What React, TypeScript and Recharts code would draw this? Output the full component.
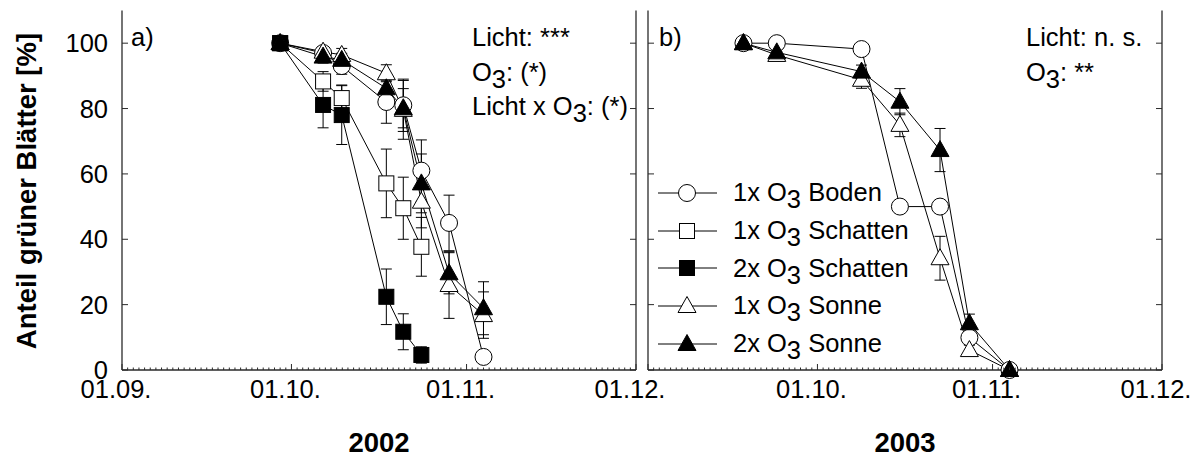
import React from 'react';
import { LineChart, Line, XAxis, YAxis, ErrorBar, Legend } from 'recharts';

const FONT = '"Liberation Sans", Arial, Helvetica, sans-serif';
const INK = '#000000';
const FRAME = '#2a2a2a';
const TEXT_SIZE = 25.5;
const TITLE_SIZE = 27.5;

// x: days after 1 September, y: share of green leaves in %
const X_DOMAIN: [number, number] = [0, 91];
const Y_DOMAIN: [number, number] = [0, 110];
const MONTH_DAYS = [0, 30, 61, 91];
const MONTH_LABELS = ['01.09.', '01.10.', '01.11.', '01.12.'];
const INNER_MONTH_DAYS = [30, 61];
const DAY_TICKS = Array.from({ length: 92 }, (_, i) => i);
const Y_TICKS = [0, 20, 40, 60, 80, 100];

// ---- 2002 ----
const days2002 = [28, 35.6, 38.9, 46.8, 49.8, 53, 57.9, 64];
const boden2002 = [100, 97, 93, 82, 81, 61, 45, 4];
const bodenErr2002 = [0, 1.5, 2.5, 6.5, 8, 9.4, 8.5, 0];
const schatten1x2002 = [100, 88.3, 83.2, 57.1, 49.5, 37.7];
const schatten1xErr2002 = [0, 3, 4, 10.5, 9.5, 9];
const schatten2x2002 = [100, 81.1, 78, 22.4, 11.7, 4.6];
const schatten2xErr2002 = [0, 7, 9, 8.5, 5.5, 2.5];
const sonne1x2002 = [100, 97.4, 96.4, 90.8, 79.6, 51.5, 26, 16.8];
const sonne1xErr2002 = [0, 1.5, 2, 2.6, 9, 8, 10.2, 7.1];
const sonne2x2002 = [100, 95.9, 94.9, 86.2, 80.1, 57.1, 29.6, 18.9];
const sonne2xErr2002 = [0, 2, 2, 4, 6, 9, 6.3, 8.1];

// ---- 2003 ----
const days2003 = [16.9, 22.8, 37.8, 44.6, 51.7, 56.9, 64];
const boden2003 = [100, 100, 98.2, 50, 50, 9.9, 0];
const bodenErr2003 = [0, 0, 0, 0, 0, 2, 0];
const sonne1x2003 = [100, 96.4, 88.8, 75, 34.2, 6.1, 0];
const sonne1xErr2003 = [0, 1, 2.6, 3.6, 6.7, 1.5, 0];
const sonne2x2003 = [100, 97.2, 91.3, 82.1, 67.3, 14.3, 0];
const sonne2xErr2003 = [0, 1, 2, 4, 6.6, 2.8, 0];

// ---- legend ----
type Shape = 'circle' | 'square' | 'triangle';
const LEGEND_SHAPES: Shape[] = ['circle', 'square', 'square', 'triangle', 'triangle'];
const LEGEND_FILLED = [false, false, true, false, true];
const LEGEND_DOSE = ['1x', '1x', '2x', '1x', '2x'];
const LEGEND_SITE = ['Boden', 'Schatten', 'Schatten', 'Sonne', 'Sonne'];

interface SeriesDef {
  id: string;
  shape: Shape;
  filled: boolean;
  days: number[];
  values: number[];
  errors: number[];
}

const series2002: SeriesDef[] = [
  { id: 'b02', shape: 'circle', filled: false, days: days2002, values: boden2002, errors: bodenErr2002 },
  { id: 's1x02', shape: 'square', filled: false, days: days2002, values: schatten1x2002, errors: schatten1xErr2002 },
  { id: 's2x02', shape: 'square', filled: true, days: days2002, values: schatten2x2002, errors: schatten2xErr2002 },
  { id: 'so1x02', shape: 'triangle', filled: false, days: days2002, values: sonne1x2002, errors: sonne1xErr2002 },
  { id: 'so2x02', shape: 'triangle', filled: true, days: days2002, values: sonne2x2002, errors: sonne2xErr2002 },
];

const series2003: SeriesDef[] = [
  { id: 'b03', shape: 'circle', filled: false, days: days2003, values: boden2003, errors: bodenErr2003 },
  { id: 'so1x03', shape: 'triangle', filled: false, days: days2003, values: sonne1x2003, errors: sonne1xErr2003 },
  { id: 'so2x03', shape: 'triangle', filled: true, days: days2003, values: sonne2x2003, errors: sonne2xErr2003 },
];

const toPoints = (s: SeriesDef) =>
  s.values.map((y, i) => ({ x: s.days[i], y, e: s.errors[i] }));

function Marker({ shape, filled, cx, cy }: { shape: Shape; filled: boolean; cx: number; cy: number }) {
  const fill = filled ? INK : '#ffffff';
  if (shape === 'circle') {
    return <circle cx={cx} cy={cy} r={8.5} fill={fill} stroke={INK} strokeWidth={1} />;
  }
  if (shape === 'square') {
    return <rect x={cx - 7.5} y={cy - 7.5} width={15} height={15} fill={fill} stroke={INK} strokeWidth={1} />;
  }
  return (
    <polygon
      points={`${cx},${cy - 9.5} ${cx - 9},${cy + 6.5} ${cx + 9},${cy + 6.5}`}
      fill={fill}
      stroke={INK}
      strokeWidth={1}
    />
  );
}

const makeDot = (s: SeriesDef) => (props: any) => {
  const { cx, cy, index } = props;
  if (cx == null || cy == null) return <g key={`${s.id}-${index}`} />;
  return (
    <g key={`${s.id}-${index}`}>
      <Marker shape={s.shape} filled={s.filled} cx={cx} cy={cy} />
    </g>
  );
};

// ---- axis tick renderers (ticks point into the frame) ----
const bottomTick = (labelled: boolean[]) => (props: any) => {
  const { x, y, payload } = props;
  const idx = MONTH_DAYS.indexOf(payload.value);
  const major = idx >= 0;
  return (
    <g>
      <line x1={x} x2={x} y1={y} y2={y - (major ? 6 : 2.5)} stroke={FRAME} strokeWidth={1} />
      {major && labelled[idx] ? (
        <text x={x - 6} y={y + 28} textAnchor="middle" fontSize={TEXT_SIZE} fontFamily={FONT} fill={INK}>
          {MONTH_LABELS[idx]}
        </text>
      ) : null}
    </g>
  );
};

const topTick = (props: any) => {
  const { x, y } = props;
  return <line x1={x} x2={x} y1={y} y2={y + 6} stroke={FRAME} strokeWidth={1} />;
};

const leftTick = (showLabel: boolean) => (props: any) => {
  const { x, y, payload } = props;
  return (
    <g>
      <line x1={x} x2={x + 6} y1={y} y2={y} stroke={FRAME} strokeWidth={1} />
      {showLabel ? (
        <text x={x - 14} y={y} dy="0.36em" textAnchor="end" fontSize={TEXT_SIZE} fontFamily={FONT} fill={INK}>
          {payload.value}
        </text>
      ) : null}
    </g>
  );
};

const rightTick = (props: any) => {
  const { x, y } = props;
  return <line x1={x} x2={x - 6} y1={y} y2={y} stroke={FRAME} strokeWidth={1} />;
};

const frameLine = { stroke: FRAME, strokeWidth: 1.3 };

function LegendBox() {
  return (
    <div style={{ fontFamily: FONT, fontSize: TEXT_SIZE, color: INK }}>
      {LEGEND_SHAPES.map((shape, i) => (
        <div
          key={i}
          style={{ height: 37.75, display: 'flex', alignItems: 'center', whiteSpace: 'nowrap' }}
        >
          <svg width={60} height={20} style={{ overflow: 'visible', display: 'block' }}>
            <line x1={0} x2={59} y1={10} y2={10} stroke={INK} strokeWidth={1} />
            <Marker shape={shape} filled={LEGEND_FILLED[i]} cx={29} cy={10} />
          </svg>
          <span style={{ marginLeft: 15, lineHeight: 1 }}>
            {LEGEND_DOSE[i]} O
            <span style={{ position: 'relative', top: 7 }}>3</span> {LEGEND_SITE[i]}
          </span>
        </div>
      ))}
    </div>
  );
}

interface PanelProps {
  series: SeriesDef[];
  width: number;
  margin: { top: number; right: number; bottom: number; left: number };
  yAxisWidth: number;
  yLabels: boolean;
  xLabelled: boolean[];
  withLegend?: boolean;
}

function Panel({ series, width, margin, yAxisWidth, yLabels, xLabelled, withLegend }: PanelProps) {
  return (
    <LineChart width={width} height={466} margin={margin} style={{ overflow: 'visible' }}>
      <XAxis
        xAxisId="bottom"
        dataKey="x"
        type="number"
        domain={X_DOMAIN}
        ticks={DAY_TICKS}
        interval={0}
        tick={bottomTick(xLabelled)}
        tickLine={false}
        tickSize={0}
        tickMargin={0}
        axisLine={frameLine}
        height={30}
      />
      <XAxis
        xAxisId="top"
        orientation="top"
        dataKey="x"
        type="number"
        domain={X_DOMAIN}
        ticks={INNER_MONTH_DAYS}
        interval={0}
        tick={topTick}
        tickLine={false}
        tickSize={0}
        tickMargin={0}
        axisLine={frameLine}
        height={0}
      />
      <YAxis
        yAxisId="left"
        type="number"
        domain={Y_DOMAIN}
        ticks={Y_TICKS}
        interval={0}
        tick={leftTick(yLabels)}
        tickLine={false}
        tickSize={0}
        tickMargin={0}
        axisLine={frameLine}
        width={yAxisWidth}
      />
      <YAxis
        yAxisId="right"
        orientation="right"
        type="number"
        domain={Y_DOMAIN}
        ticks={Y_TICKS}
        interval={0}
        tick={rightTick}
        tickLine={false}
        tickSize={0}
        tickMargin={0}
        axisLine={frameLine}
        width={1}
      />
      {series.map((s) => (
        <Line
          key={s.id}
          xAxisId="bottom"
          yAxisId="left"
          data={toPoints(s)}
          dataKey="y"
          stroke={INK}
          strokeWidth={1}
          dot={makeDot(s)}
          activeDot={false}
          isAnimationActive={false}
          legendType="none"
        />
      ))}
      {series.map((s) => (
        <Line
          key={`${s.id}-err`}
          xAxisId="top"
          yAxisId="right"
          data={toPoints(s)}
          dataKey="y"
          stroke="none"
          dot={false}
          activeDot={false}
          isAnimationActive={false}
          legendType="none"
        >
          <ErrorBar dataKey="e" direction="y" width={5.5} stroke={INK} strokeWidth={1} isAnimationActive={false} />
        </Line>
      ))}
      {withLegend ? (
        <Legend
          layout="vertical"
          align="center"
          verticalAlign="middle"
          wrapperStyle={{ left: 18, top: 174, width: 320 }}
          content={() => <LegendBox />}
        />
      ) : null}
    </LineChart>
  );
}

function Annotations() {
  const t = { fontFamily: FONT, fontSize: TEXT_SIZE, fill: INK } as const;
  const b = { fontFamily: FONT, fontSize: TITLE_SIZE, fontWeight: 700, fill: INK } as const;
  return (
    <svg
      width={1197}
      height={466}
      style={{ position: 'absolute', left: 0, top: 0, pointerEvents: 'none' }}
    >
      <text {...b} transform="translate(36,191) rotate(-90)" textAnchor="middle">
        Anteil grüner Blätter [%]
      </text>
      <text {...b} x={379} y={452} textAnchor="middle">2002</text>
      <text {...b} x={905} y={452} textAnchor="middle">2003</text>

      <text {...t} x={131} y={46}>a)</text>
      <text {...t} x={472} y={46}>Licht: ***</text>
      <text {...t} x={472} y={80.5}>
        O<tspan dy={7}>3</tspan>
        <tspan dy={-7}>: (*)</tspan>
      </text>
      <text {...t} x={472} y={115}>
        Licht x O<tspan dy={7}>3</tspan>
        <tspan dy={-7}>: (*)</tspan>
      </text>

      <text {...t} x={659} y={46}>b)</text>
      <text {...t} x={1026} y={46}>Licht: n. s.</text>
      <text {...t} x={1026} y={80.5}>
        O<tspan dy={7}>3</tspan>
        <tspan dy={-7}>: **</tspan>
      </text>
    </svg>
  );
}

export default function App() {
  return (
    <div
      style={{
        position: 'absolute',
        left: 0,
        top: 0,
        width: 1197,
        height: 466,
        background: '#ffffff',
        overflow: 'hidden',
      }}
    >
      <div style={{ position: 'absolute', left: 0, top: 0 }}>
        <Panel
          series={series2002}
          width={700}
          margin={{ top: 10.5, right: 63, bottom: 66, left: 62 }}
          yAxisWidth={60}
          yLabels
          xLabelled={[true, true, true, true]}
        />
      </div>
      <div style={{ position: 'absolute', left: 640, top: 0 }}>
        <Panel
          series={series2003}
          width={557}
          margin={{ top: 10.5, right: 34, bottom: 66, left: 7 }}
          yAxisWidth={1}
          yLabels={false}
          xLabelled={[false, true, true, true]}
          withLegend
        />
      </div>
      <Annotations />
    </div>
  );
}
